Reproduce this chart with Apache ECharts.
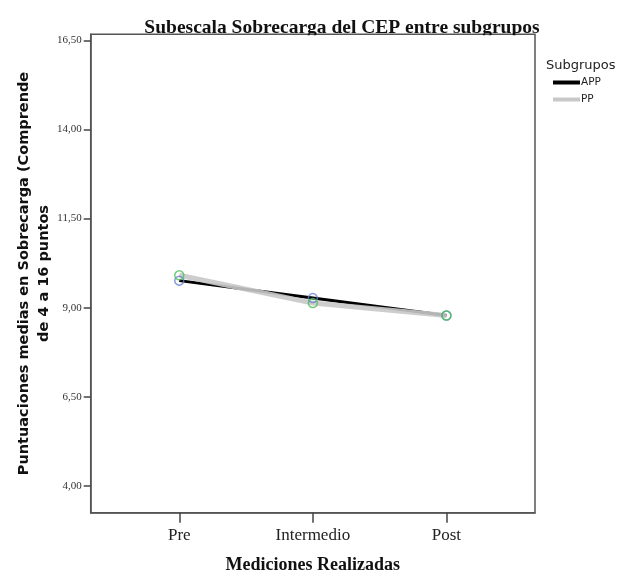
<!DOCTYPE html>
<html>
<head>
<meta charset="utf-8">
<script src="https://cdn.jsdelivr.net/npm/echarts@6/dist/echarts.min.js"></script>
<style>html,body{margin:0;padding:0;background:#fff;}#c{width:619px;height:574px;}</style>
</head>
<body>
<div id="c"></div>
<script>
const categories = ['Pre', 'Intermedio', 'Post'];
const appValues = [9.76, 9.27, 8.78];
const ppValues = [9.91, 9.13, 8.78];
const yTicks = [4, 6.5, 9, 11.5, 14, 16.5];
const groups = ['APP', 'PP'];

const toPts = vals => vals.map((v, i) => [i, v]);
const catIdx = categories.map((c, i) => i);

const chart = echarts.init(document.getElementById('c'));
chart.setOption({
  animation: false,
  backgroundColor: '#fff',
  title: [{
    text: 'Subescala Sobrecarga del CEP entre subgrupos',
    left: 337, top: 13, textAlign: 'center',
    textStyle: { fontFamily: 'Liberation Serif', fontWeight: 'bold', fontSize: 19.5, color: '#111' }
  }, {
    text: 'Subgrupos',
    left: 541, top: 54,
    textStyle: { fontFamily: 'DejaVu Sans', fontWeight: 'normal', fontSize: 13, color: '#222' }
  }],
  legend: {
    data: groups,
    orient: 'vertical',
    left: 553, top: 76,
    padding: 0,
    itemWidth: 27, itemHeight: 4, itemGap: 4,
    icon: 'rect',
    textStyle: { fontFamily: 'DejaVu Sans', fontSize: 10.5, color: '#222', lineHeight: 13, padding: [0, 0, 0, -4] }
  },
  grid: {
    left: 90.7, right: 84, top: 34.3, bottom: 61.3,
    outerBoundsMode: 'none', containLabel: false,
    show: true, borderColor: '#555', borderWidth: 1.5, backgroundColor: 'transparent'
  },
  xAxis: {
    type: 'value', min: -0.663, max: 2.663,
    name: 'Mediciones Realizadas', nameLocation: 'middle', nameGap: 44, nameMoveOverlap: false,
    nameTextStyle: { fontFamily: 'Liberation Serif', fontWeight: 'bold', fontSize: 18, color: '#111' },
    axisLine: { show: true, onZero: false, lineStyle: { color: '#555', width: 1.5 } },
    axisTick: { show: true, customValues: catIdx, length: 10, lineStyle: { color: '#444', width: 1.5 } },
    axisLabel: { customValues: catIdx, formatter: v => categories[Math.round(v)], margin: 14,
      fontFamily: 'Liberation Serif', fontSize: 17, color: '#222' },
    splitLine: { show: false }
  },
  yAxis: {
    type: 'value', min: 3.25, max: 16.67,
    name: 'Puntuaciones medias en Sobrecarga (Comprende\nde 4 a 16 puntos', nameLocation: 'middle', nameGap: 36, nameMoveOverlap: false,
    nameTextStyle: { fontFamily: 'DejaVu Sans', fontWeight: 'bold', fontSize: 14.5, color: '#111', lineHeight: 20, padding: [0, 0, 0, 0] },
    axisLine: { show: true, onZero: false, lineStyle: { color: '#555', width: 1.5 } },
    axisTick: { show: true, customValues: yTicks, length: 7, lineStyle: { color: '#444', width: 1.5 } },
    axisLabel: { customValues: yTicks, formatter: v => v.toFixed(2).replace('.', ','), margin: 9,
      fontFamily: 'Liberation Serif', fontSize: 11, color: '#333' },
    splitLine: { show: false }
  },
  graphic: [{
    type: 'rect', z: 100,
    shape: { x: 135, y: 35.3, width: 398, height: 4 },
    style: { fill: '#fff' }
  }],
  series: [{
    name: 'APP', type: 'line', data: toPts(appValues), color: '#000',
    symbol: 'none', lineStyle: { color: '#000', width: 3 }, z: 2
  }, {
    name: 'PP', type: 'line', data: toPts(ppValues), color: '#c8c8c8',
    symbol: 'none', lineStyle: { color: '#c8c8c8', width: 5, opacity: 0.9 }, z: 3
  }, {
    name: 'APP marks', type: 'scatter', data: toPts(appValues), symbol: 'circle', symbolSize: 9,
    itemStyle: { color: 'rgba(0,0,0,0)', borderColor: '#6b7fd6', borderWidth: 1.5 }, z: 5
  }, {
    name: 'PP marks', type: 'scatter', data: toPts(ppValues), symbol: 'circle', symbolSize: 9,
    itemStyle: { color: 'rgba(0,0,0,0)', borderColor: '#4fbf5a', borderWidth: 1.5 }, z: 6
  }]
});
</script>
</body>
</html>
